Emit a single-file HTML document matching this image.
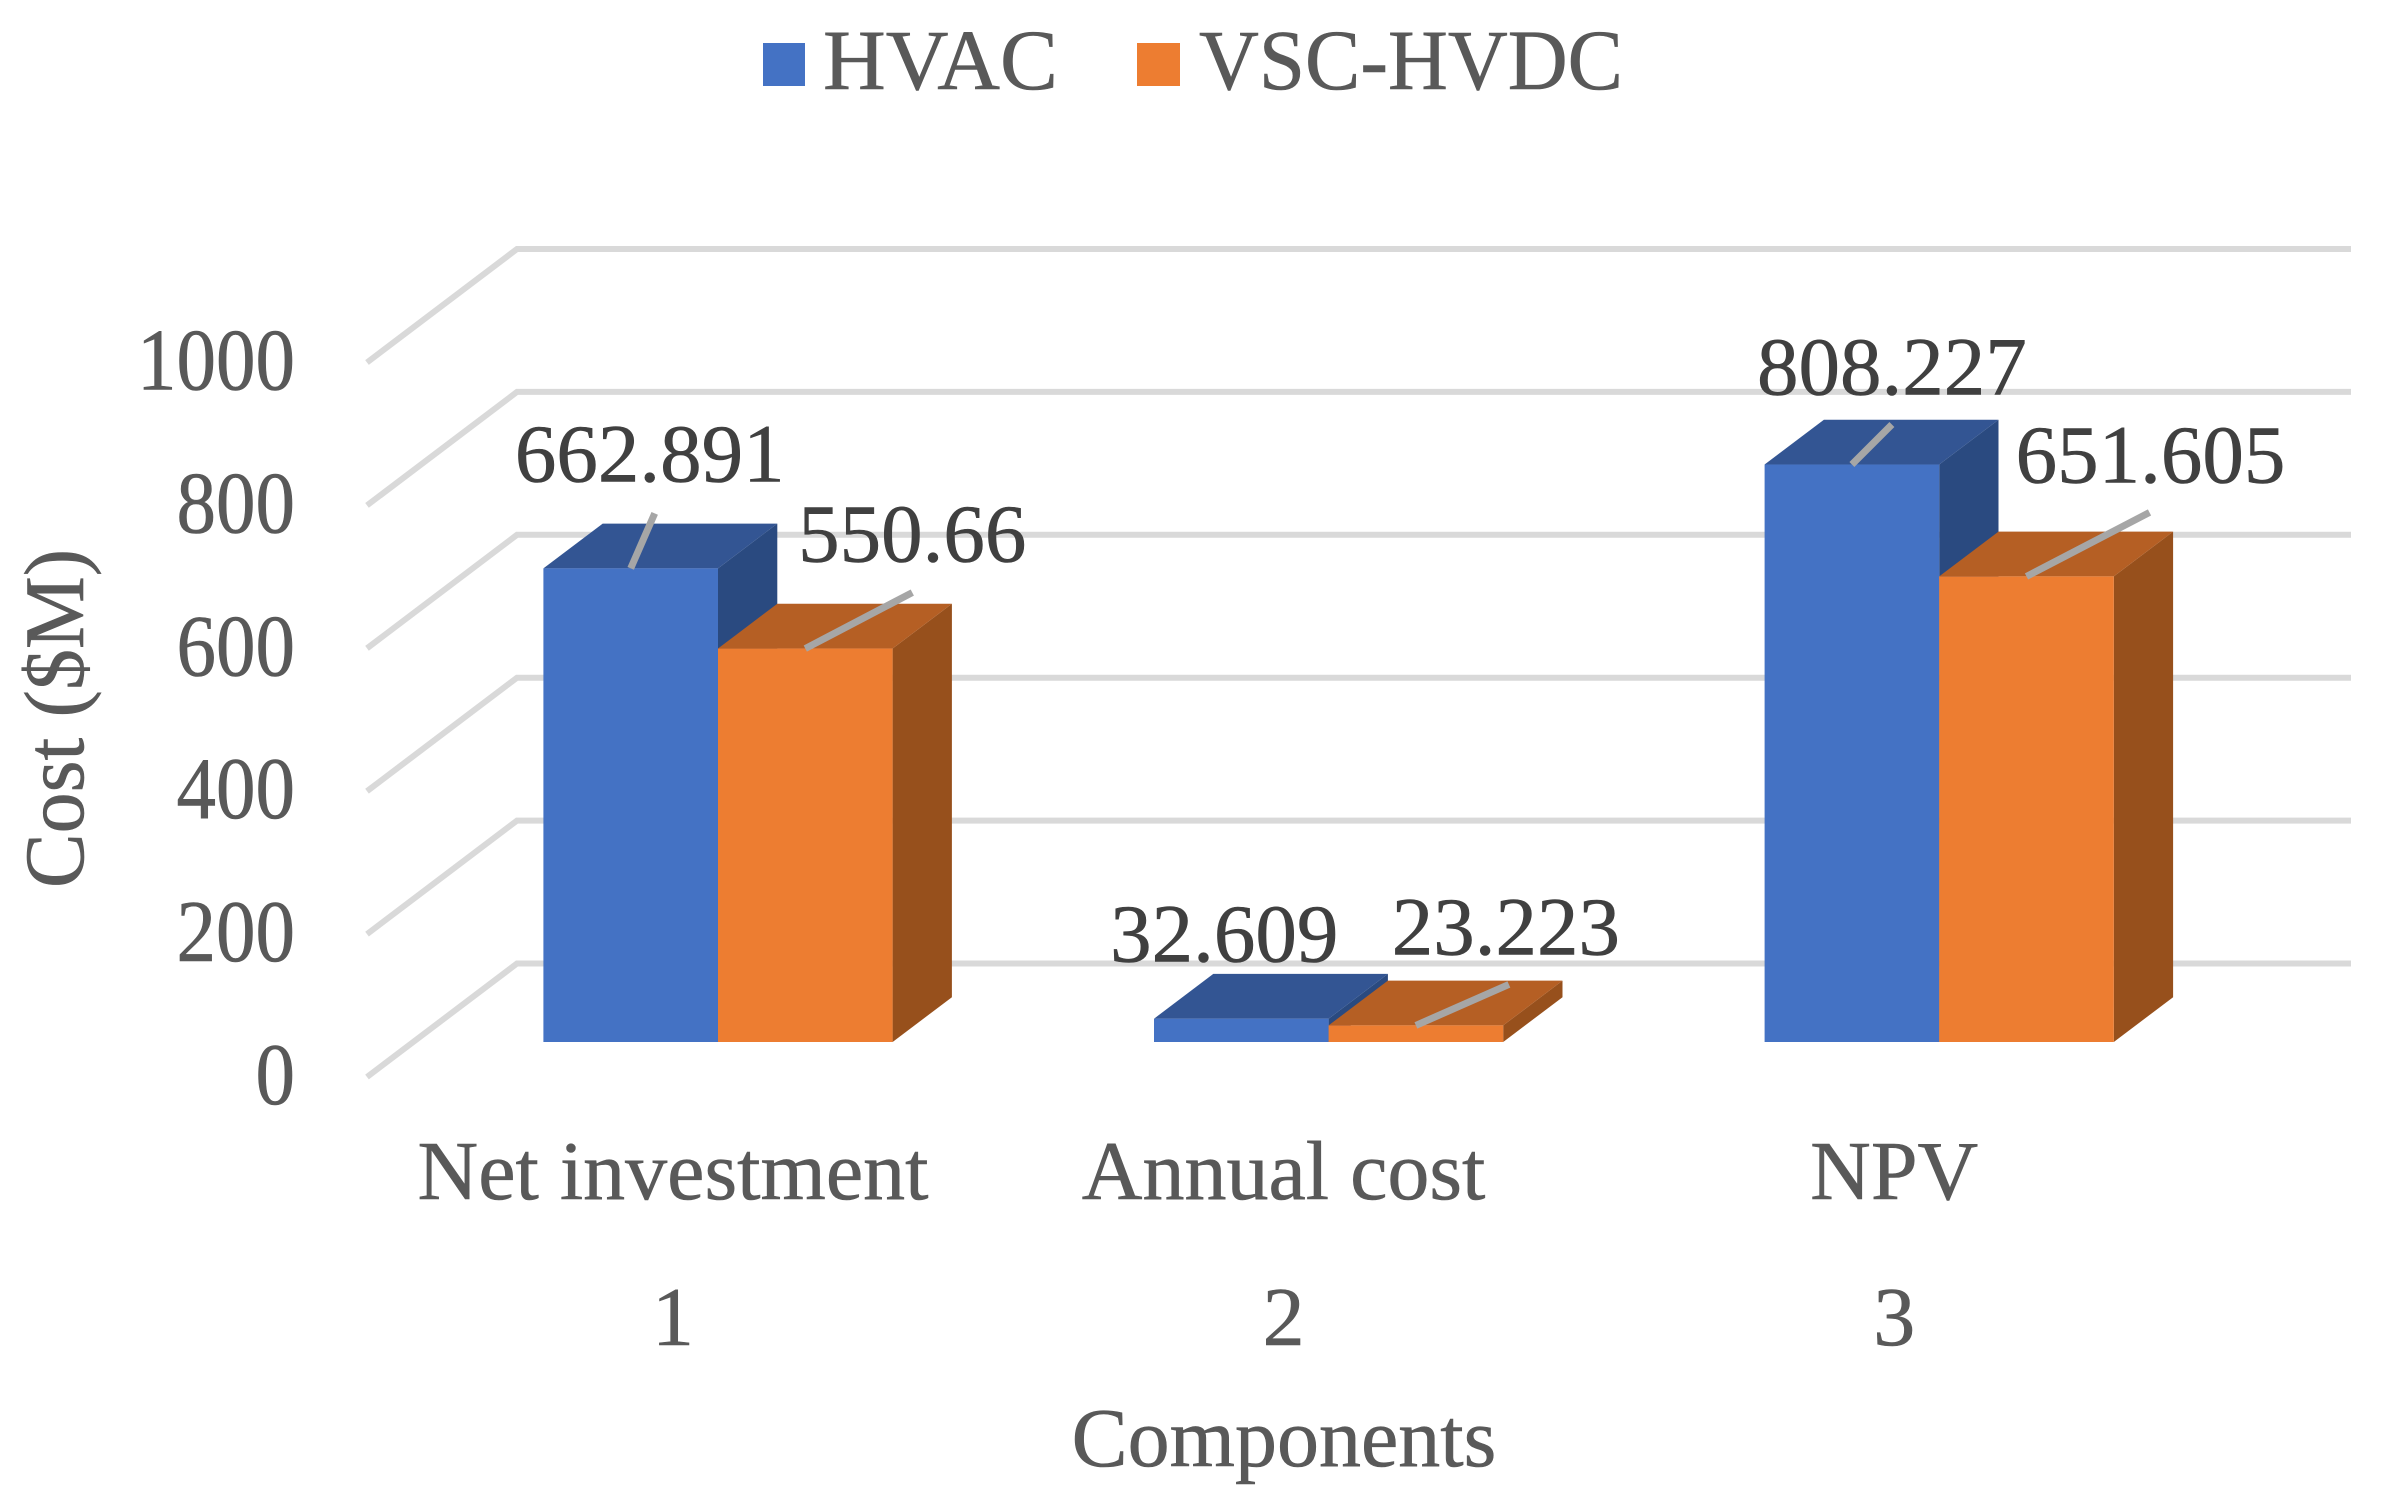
<!DOCTYPE html>
<html>
<head>
<meta charset="utf-8">
<title>Cost by component</title>
<style>
html,body{margin:0;padding:0;background:#fff;width:2381px;height:1511px;overflow:hidden}
svg{display:block}
text{font-family:"Liberation Serif",serif;stroke-width:0.6;paint-order:stroke}
</style>
</head>
<body>
<svg id="chart" width="2381" height="1511" viewBox="0 0 2381 1511" xmlns="http://www.w3.org/2000/svg">
  <rect width="2381" height="1511" fill="#ffffff"/>
  <g>
    <g>
      <rect x="763" y="43" width="42" height="43" fill="#4472c4"/>
      <text x="823" y="89" font-size="86" fill="#595959" stroke="#595959" textLength="235" lengthAdjust="spacingAndGlyphs">HVAC</text>
    </g>
    <g>
      <rect x="1137" y="43" width="43" height="43" fill="#ed7d31"/>
      <text x="1199" y="89" font-size="86" fill="#595959" stroke="#595959" textLength="424" lengthAdjust="spacingAndGlyphs">VSC-HVDC</text>
    </g>
  </g>
  <g id="grid"></g>
  <g id="yticks"></g>
  <g id="bars"></g>
  <g id="labels"></g>
  <g id="xticks"></g>
  <text transform="translate(83,888) rotate(-90)" font-size="85" fill="#595959" stroke="#595959" textLength="339" lengthAdjust="spacingAndGlyphs">Cost ($M)</text>
  <text x="1284" y="1466" font-size="84" fill="#595959" stroke="#595959" text-anchor="middle">Components</text>
</svg>
<script>
const categories = ['Net investment', 'Annual cost', 'NPV'];
const categoryNumbers = ['1', '2', '3'];
const hvacValues = [662.891, 32.609, 808.227];
const vscValues = [550.66, 23.223, 651.605];
const yTickValues = [0, 200, 400, 600, 800, 1000];

const NS = 'http://www.w3.org/2000/svg';
const PX_PER_UNIT = 0.7145;
const BASE_Y = 1042, BACK_ZERO_Y = 963.5, FRONT_ZERO_Y = 1077;
const GROUP_START = 543.4, GROUP_STEP = 610.6, BAR_W = 174.6;
const BAR_DX = 59.3, BAR_DY = 44.8;
const GRID_FRONT_X = 367, GRID_BACK_X = 517, GRID_RIGHT_X = 2351;

function scaleLen(v) { return v * PX_PER_UNIT; }
function backY(v) { return BACK_ZERO_Y - scaleLen(v); }
function frontY(v) { return FRONT_ZERO_Y - scaleLen(v); }
function barTop(v) { return BASE_Y - scaleLen(v); }
function barLeft(g, s) { return GROUP_START + g * GROUP_STEP + s * BAR_W; }

function make(tag, attrs, parent) {
  const el = document.createElementNS(NS, tag);
  for (const k in attrs) el.setAttribute(k, attrs[k]);
  parent.appendChild(el);
  return el;
}

const gridG = document.getElementById('grid');
const yTickG = document.getElementById('yticks');
yTickValues.forEach(function (v) {
  const line = make('polyline', {
    points: GRID_FRONT_X + ',' + frontY(v) + ' ' + GRID_BACK_X + ',' + backY(v) + ' ' + GRID_RIGHT_X + ',' + backY(v),
    fill: 'none', stroke: '#d9d9d9', 'stroke-width': 6
  }, gridG);
  
  

  const label = String(v);
  const t = make('text', {
    x: 295, y: frontY(v) + 27, 'font-size': 88, fill: '#595959', stroke: '#595959', 'text-anchor': 'end',
    textLength: label.length * 39.5, lengthAdjust: 'spacingAndGlyphs'
  }, yTickG);
  t.textContent = label;
  
  
});

const seriesList = [
  { key: 'hvac', values: hvacValues, front: '#4472c4', side: '#2a4a80', top: '#335593' },
  { key: 'vsc-hvdc', values: vscValues, front: '#ed7d31', side: '#97501c', top: '#b55f24' }
];

// Layout only: offsets of each data label and its leader line from the bar's top-front centre.
const labelLayout = {
  'hvac': [
    { lx: 19, ly: -87, ex: 24, ey: -55 },
    { lx: -17, ly: -57, ex: 0, ey: 0 },
    { lx: 40, ly: -70, ex: 40, ey: -40 }
  ],
  'vsc-hvdc': [
    { lx: 107, ly: -87, ex: 107, ey: -56 },
    { lx: 90, ly: -71, ex: 93, ey: -41 },
    { lx: 124, ly: -94, ex: 123, ey: -64 }
  ]
};

const barsG = document.getElementById('bars');
const labelsG = document.getElementById('labels');
categories.forEach(function (cat, g) {
  seriesList.forEach(function (series, s) {
    const value = series.values[g];
    const x = barLeft(g, s);
    const top = barTop(value);
    const group = make('g', {}, barsG);
    
    

    const side = make('polygon', {
      points: [[x + BAR_W, top], [x + BAR_W + BAR_DX, top - BAR_DY], [x + BAR_W + BAR_DX, BASE_Y - BAR_DY], [x + BAR_W, BASE_Y]].join(' '),
      fill: series.side
    }, group);
    
    

    const topFace = make('polygon', {
      points: [[x, top], [x + BAR_DX, top - BAR_DY], [x + BAR_W + BAR_DX, top - BAR_DY], [x + BAR_W, top]].join(' '),
      fill: series.top
    }, group);
    
    

    const front = make('rect', { x: x, y: top, width: BAR_W, height: BASE_Y - top, fill: series.front }, group);
    
    

    const layout = labelLayout[series.key][g];
    const cx = x + BAR_W / 2;
    if (layout.ex !== 0 || layout.ey !== 0) {
      const leader = make('line', {
        x1: cx, y1: top, x2: cx + layout.ex, y2: top + layout.ey,
        stroke: '#a6a6a6', 'stroke-width': 7
      }, labelsG);
      
      
    }
    const lab = make('text', {
      x: cx + layout.lx, y: top + layout.ly, 'font-size': 83, fill: '#404040', stroke: '#404040', 'text-anchor': 'middle'
    }, labelsG);
    lab.textContent = String(value);
    
    
  });
});

const xTickG = document.getElementById('xticks');
categories.forEach(function (cat, g) {
  const center = barLeft(g, 1) - 45;
  const c = make('text', { x: center, y: 1199, 'font-size': 84, fill: '#595959', stroke: '#595959', 'text-anchor': 'middle' }, xTickG);
  c.textContent = cat;
  
  

  const n = make('text', { x: center, y: 1345, 'font-size': 84, fill: '#595959', stroke: '#595959', 'text-anchor': 'middle' }, xTickG);
  n.textContent = categoryNumbers[g];
  
  
});
</script>
</body>
</html>
